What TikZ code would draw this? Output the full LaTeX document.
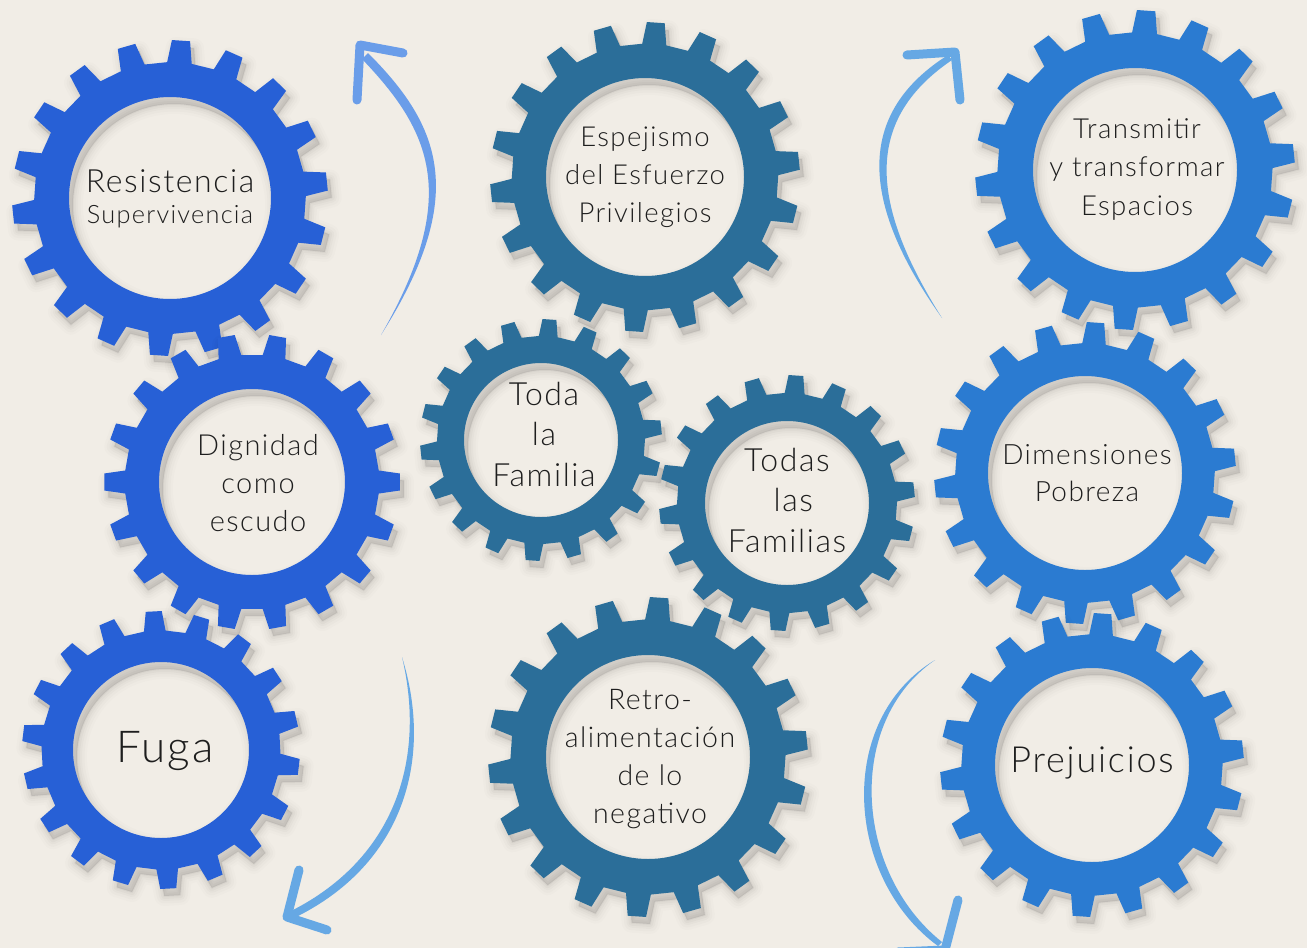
\documentclass[tikz,border=0pt]{standalone}
\usepackage{fontspec}
\setmainfont{Lato Light}[LetterSpace=5]
\definecolor{bg}{HTML}{F1EDE6}
\definecolor{gblue}{HTML}{2760D6}
\definecolor{gteal}{HTML}{2B6E99}
\definecolor{gsky}{HTML}{2B7BD1}
\definecolor{arrA}{HTML}{6A9DE9}
\definecolor{arrB}{HTML}{66A8E4}
\definecolor{txt}{HTML}{1E1E1E}
\newcommand{\gearpath}[3]{({#2-5.2}:{0.86*#1}) \foreach \k [evaluate=\k as \t using #2+20*\k] in {0,...,17}{ -- ({\t-3.3}:#1) -- ({\t+3.3}:#1) -- ({\t+5.2}:{0.86*#1}) -- ({\t+14.8}:{0.86*#1}) } -- cycle (0,0) circle (#3)}
\newcommand{\drawgear}[6]{%
  \begin{scope}[shift={(#1,#2)}]
    \foreach \w/\o in {20/0.012, 15/0.016, 10/0.02, 6/0.025, 2/0.03}{
      \filldraw[black, opacity=\o, line width=\w pt, line join=round, even odd rule, shift={(4,7)}] \gearpath{#3}{#4}{#5};
    }
    \fill[#6, even odd rule] \gearpath{#3}{#4}{#5};
  \end{scope}}
\begin{document}
\begin{tikzpicture}[x=1pt,y=-1pt,
  lbl/.style={text=txt, align=center, inner sep=0pt},
  armline/.style={line width=9pt, line cap=round, line join=round}]
\fill[bg] (0,0) rectangle (1307,948);
\useasboundingbox (0,0) rectangle (1307,948);

% gears: cx, cy, R, tooth offset, inner r, colour
\drawgear{170}{198}{158}{14}{101}{gblue}
\drawgear{252}{482}{148}{0}{93}{gblue}
\drawgear{161}{750}{139}{7}{88}{gblue}
\drawgear{645}{177}{155}{14}{99}{gteal}
\drawgear{541}{440}{121}{14}{77}{gteal}
\drawgear{787}{503}{128}{14}{82}{gteal}
\drawgear{648}{757}{160}{14}{102}{gteal}
\drawgear{1135}{170}{160}{14}{102}{gsky}
\drawgear{1085}{473}{151}{14}{97}{gsky}
\drawgear{1092}{765}{152}{14}{97}{gsky}

% arrow 1 (top left)
\coordinate (a1b) at (381,335);
\coordinate (a1tip) at (360,45);
\coordinate (a1e1) at (403,53);
\coordinate (a1e2) at (357,100);
\fill[arrA] (a1b) .. controls (470,195) and (440,125) .. (368,53) -- (362,59) .. controls (431,131) and (461,196) .. (a1b) -- cycle;
\draw[arrA, armline] (a1e1) -- (a1tip) -- (a1e2);

% arrow 2 (bottom left)
\coordinate (a2s) at (402,657);
\coordinate (a2tip) at (287,917);
\coordinate (a2e1) at (327,930);
\coordinate (a2e2) at (299,870);
\fill[arrB] (a2s) .. controls (434,760) and (403,865) .. (294,918) -- (291,911) .. controls (396,858) and (426,758) .. (a2s) -- cycle;
\draw[arrB, armline] (a2e1) -- (a2tip) -- (a2e2);

% arrow 3 (top right)
\coordinate (a3b) at (942,318);
\coordinate (a3tip) at (955,52);
\coordinate (a3e1) at (907,55);
\coordinate (a3e2) at (960,100);
\fill[arrB] (a3b) .. controls (865,210) and (850,117) .. (948,55) -- (952,60) .. controls (859,123) and (874,210) .. (a3b) -- cycle;
\draw[arrB, armline] (a3e1) -- (a3tip) -- (a3e2);

% arrow 4 (bottom right)
\coordinate (a4s) at (935,660);
\coordinate (a4tip) at (945,950);
\coordinate (a4e1) at (958,900);
\coordinate (a4e2) at (898,952);
\fill[arrB] (a4s) .. controls (835,720) and (845,878) .. (938,946) -- (942,942) .. controls (854,872) and (845,722) .. (a4s) -- cycle;
\draw[arrB, armline] (a4e1) -- (a4tip) -- (a4e2);

% labels
\node[lbl, font=\fontsize{32}{35}\selectfont] (resist) at (170,181) {Resistencia};
\node[lbl, font=\fontsize{25.3}{28}\selectfont] (superv) at (170,217) {Supervivencia};
\node[lbl, font=\fontsize{29}{38}\selectfont] (dignid) at (258,483) {Dignidad\\como\\escudo};
\node[lbl, font=\fontsize{44}{50}\selectfont] (fuga) at (165,751) {Fuga};
\node[lbl, font=\fontsize{27.5}{38}\selectfont] (espej) at (645,177) {Espejismo\\del Esfuerzo\\Privilegios};
\node[lbl, font=\fontsize{32}{40.5}\selectfont] (toda) at (544,434) {Toda\\la\\Familia};
\node[lbl, font=\fontsize{32}{40.5}\selectfont] (todas) at (787,500) {Todas\\\hspace{0.4em}las\\Familias};
\node[lbl, font=\fontsize{28.5}{38}\selectfont] (retro) at (650,759) {Retro-\\alimentación\\de lo\\negativo};
\node[lbl, font=\fontsize{27.6}{38.5}\selectfont] (transm) at (1137,169) {Transmitir\\y transformar\\Espacios};
\node[lbl, font=\fontsize{28}{37}\selectfont] (dimens) at (1087,473) {Dimensiones\\Pobreza};
\node[lbl, font=\fontsize{36}{42}\selectfont] (prej) at (1092,763) {Prejuicios};
\end{tikzpicture}
\end{document}
